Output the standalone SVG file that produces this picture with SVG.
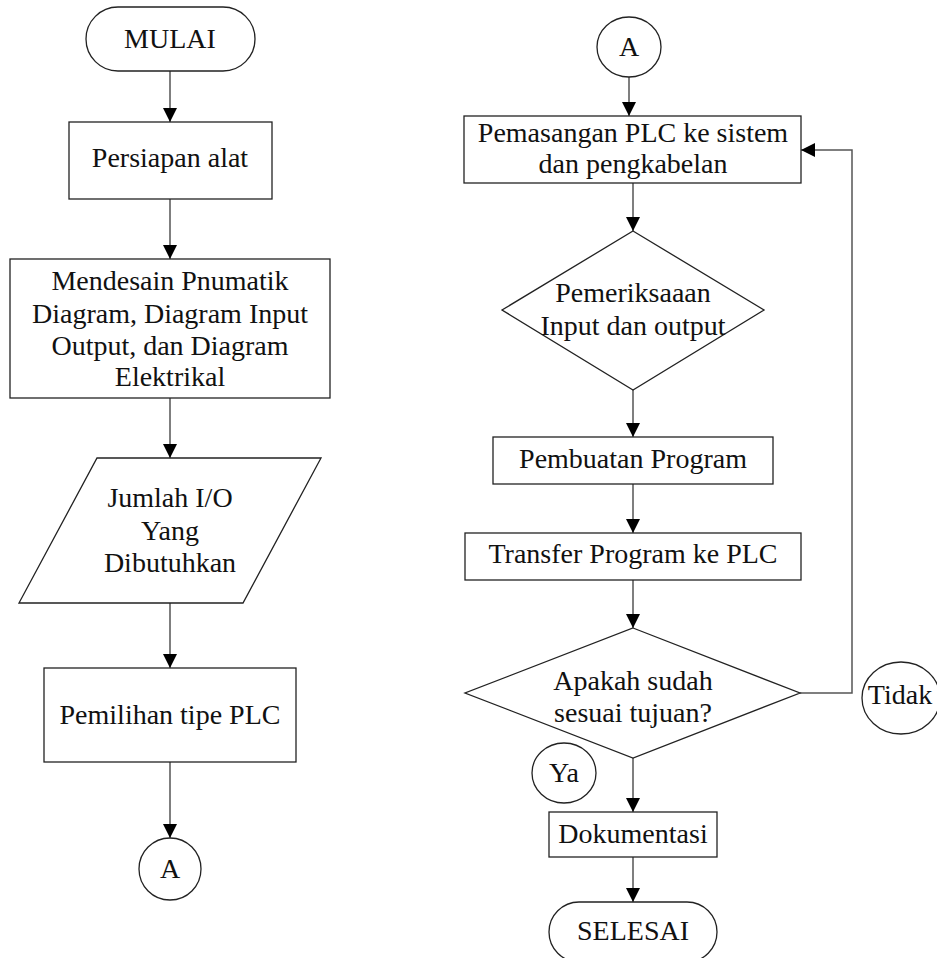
<svg xmlns="http://www.w3.org/2000/svg" width="937" height="958" viewBox="0 0 937 958">
<style>
.s{fill:#fff;stroke:#222;stroke-width:1.3}
.t{font-family:"Liberation Serif","Times New Roman",serif;font-size:28px;fill:#111;text-anchor:middle}
.c{fill:none;stroke:#555;stroke-width:1.5}
</style>
<defs>
<marker id="ah" markerWidth="14" markerHeight="14" viewBox="0 0 14 14" refX="14" refY="7" orient="auto" markerUnits="userSpaceOnUse">
<path d="M0,0 L14,7 L0,14 Z" fill="#000"/>
</marker>
</defs>
<rect width="937" height="958" fill="#fff"/>
<g id="connectors">
<line class="c" x1="170" y1="71" x2="170" y2="122" marker-end="url(#ah)"/>
<line class="c" x1="170" y1="199" x2="170" y2="259" marker-end="url(#ah)"/>
<line class="c" x1="170" y1="398" x2="170" y2="458" marker-end="url(#ah)"/>
<line class="c" x1="170" y1="603" x2="170" y2="668" marker-end="url(#ah)"/>
<line class="c" x1="170" y1="762" x2="170" y2="838" marker-end="url(#ah)"/>
<line class="c" x1="629" y1="77" x2="629" y2="116" marker-end="url(#ah)"/>
<line class="c" x1="633" y1="183" x2="633" y2="231" marker-end="url(#ah)"/>
<line class="c" x1="633" y1="390" x2="633" y2="437" marker-end="url(#ah)"/>
<line class="c" x1="633" y1="484" x2="633" y2="533" marker-end="url(#ah)"/>
<line class="c" x1="633" y1="580" x2="633" y2="628" marker-end="url(#ah)"/>
<line class="c" x1="633" y1="758" x2="633" y2="812" marker-end="url(#ah)"/>
<line class="c" x1="633" y1="857" x2="633" y2="902" marker-end="url(#ah)"/>
<polyline class="c" points="800,693 852,693 852,150 801,150" marker-end="url(#ah)"/>
</g>
<g id="mulai">
<rect class="s" x="86" y="7" width="169" height="64" rx="32" ry="32"/>
<text class="t" x="170" y="48">MULAI</text>
</g>
<g id="persiapan">
<rect class="s" x="69" y="122" width="203" height="77"/>
<text class="t" x="170" y="167">Persiapan alat</text>
</g>
<g id="mendesain">
<rect class="s" x="10" y="259" width="320" height="139"/>
<text class="t" x="170" y="290">Mendesain Pnumatik</text>
<text class="t" x="170" y="323">Diagram, Diagram Input</text>
<text class="t" x="170" y="355">Output, dan Diagram</text>
<text class="t" x="170" y="386">Elektrikal</text>
</g>
<g id="jumlah">
<polygon class="s" points="97,458 321,458 243,603 19,603"/>
<text class="t" x="170" y="507">Jumlah I/O</text>
<text class="t" x="170" y="540">Yang</text>
<text class="t" x="170" y="572">Dibutuhkan</text>
</g>
<g id="pemilihan">
<rect class="s" x="44" y="668" width="252" height="94"/>
<text class="t" x="170" y="724">Pemilihan tipe PLC</text>
</g>
<g id="a-left">
<ellipse class="s" cx="170" cy="869" rx="31" ry="31"/>
<text class="t" x="170" y="878">A</text>
</g>
<g id="a-right">
<ellipse class="s" cx="629" cy="47" rx="32" ry="30"/>
<text class="t" x="629" y="56">A</text>
</g>
<g id="pemasangan">
<rect class="s" x="464" y="116" width="337" height="67"/>
<text class="t" x="633" y="142">Pemasangan PLC ke sistem</text>
<text class="t" x="633" y="173">dan pengkabelan</text>
</g>
<g id="pemeriksaan">
<polygon class="s" points="633,231 764,310 633,390 502,310"/>
<text class="t" x="633" y="302">Pemeriksaaan</text>
<text class="t" x="633" y="335">Input dan output</text>
</g>
<g id="pembuatan">
<rect class="s" x="493" y="437" width="280" height="47"/>
<text class="t" x="633" y="468">Pembuatan Program</text>
</g>
<g id="transfer">
<rect class="s" x="465" y="533" width="336" height="47"/>
<text class="t" x="633" y="563">Transfer Program ke PLC</text>
</g>
<g id="apakah">
<polygon class="s" points="633,628 800,693 633,758 465,693"/>
<text class="t" x="633" y="690">Apakah sudah</text>
<text class="t" x="633" y="722">sesuai tujuan?</text>
</g>
<g id="tidak">
<ellipse class="s" cx="901" cy="698" rx="39" ry="36"/>
<text class="t" x="900" y="704">Tidak</text>
</g>
<g id="ya">
<ellipse class="s" cx="564" cy="773" rx="32" ry="30"/>
<text class="t" x="564" y="782">Ya</text>
</g>
<g id="dokumentasi">
<rect class="s" x="549" y="812" width="168" height="45"/>
<text class="t" x="633" y="843">Dokumentasi</text>
</g>
<g id="selesai">
<rect class="s" x="549" y="902" width="168" height="60" rx="30" ry="30"/>
<text class="t" x="633" y="940">SELESAI</text>
</g>
</svg>
